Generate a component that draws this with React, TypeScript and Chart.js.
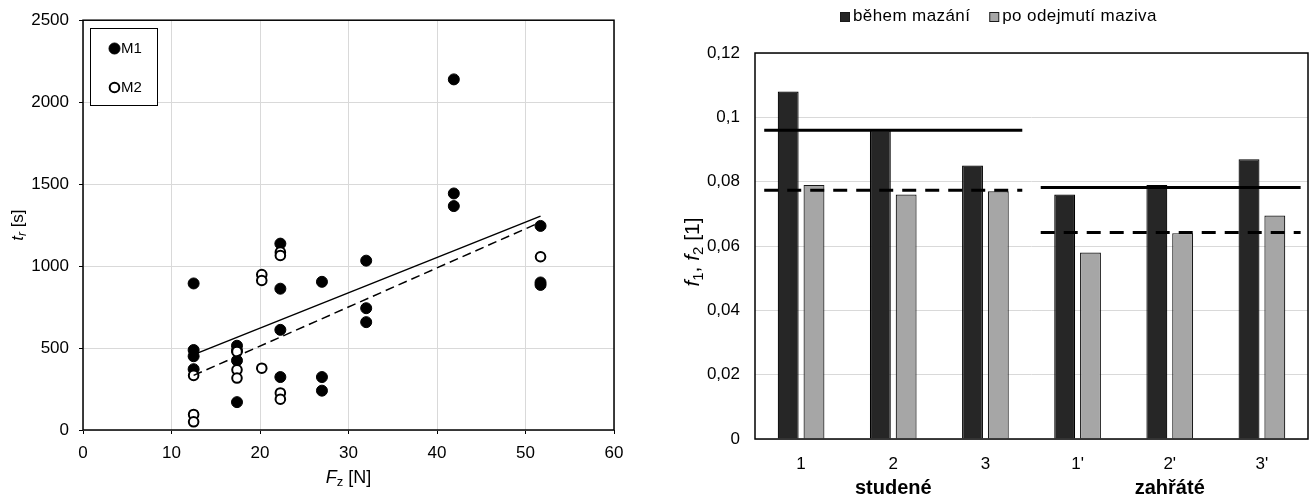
import React, { useEffect, useRef } from "react";
import { Chart, registerables } from "chart.js";

Chart.register(...registerables);

const FONT_FAMILY = "'Liberation Sans', Arial, sans-serif";

// ---------- Left chart data (t_r vs F_z) ----------
const seriesNamesLeft = ["M1", "M2"];
const m1Force = [12.5, 12.5, 12.5, 12.5, 17.4, 17.4, 17.4, 17.4, 22.3, 22.3, 22.3, 22.3, 27, 27, 27, 32, 32, 32, 41.9, 41.9, 41.9, 51.7, 51.7, 51.7];
const m1Time = [894, 488, 450, 371, 514, 484, 424, 170, 1137, 862, 611, 323, 904, 323, 240, 1033, 743, 658, 2139, 1443, 1366, 1245, 900, 885];
const m2Force = [12.5, 12.5, 12.5, 17.4, 17.4, 17.4, 20.2, 20.2, 20.2, 22.3, 22.3, 22.3, 22.3, 51.7];
const m2Time = [333, 95, 50, 478, 367, 317, 948, 912, 377, 1085, 1065, 226, 188, 1057];
const trendForce = [12.5, 51.7];
const m1Trend = [460, 1305];
const m2Trend = [333, 1268];

// ---------- Right chart data (f1, f2) ----------
const conditions = ["1", "2", "3", "1'", "2'", "3'"];
const groupNames = ["studené", "zahřáté"];
const groupCenterIdx = [1, 4];
const seriesNamesRight = ["během mazání", "po odejmutí maziva"];
const fDuring = [0.108, 0.096, 0.085, 0.076, 0.079, 0.087];
const fAfter = [0.079, 0.076, 0.077, 0.058, 0.064, 0.0695];
// mean-line spans, in category-index units
const meanSpanStart = [-0.4, 2.6];
const meanSpanEnd = [2.4, 5.42];
const meanDuring = [0.096, 0.0782];
const meanAfter = [0.0773, 0.0642];
const rightYTicks = ["0", "0,02", "0,04", "0,06", "0,08", "0,1", "0,12"];

type Seg = { t: string; size: number; italic?: boolean; bold?: boolean; dy?: number };

function fontOf(s: Seg) {
  return `${s.italic ? "italic " : ""}${s.bold ? "bold " : ""}${s.size}px ${FONT_FAMILY}`;
}

function drawRich(ctx: CanvasRenderingContext2D, segs: Seg[], cx: number, cy: number, vertical: boolean) {
  ctx.save();
  ctx.translate(cx, cy);
  if (vertical) ctx.rotate(-Math.PI / 2);
  let total = 0;
  const ws = segs.map((s) => {
    ctx.font = fontOf(s);
    const w = ctx.measureText(s.t).width;
    total += w;
    return w;
  });
  let x = -total / 2;
  ctx.fillStyle = "#000";
  ctx.textBaseline = "alphabetic";
  ctx.textAlign = "left";
  segs.forEach((s, i) => {
    ctx.font = fontOf(s);
    ctx.fillText(s.t, x, s.dy || 0);
    x += ws[i];
  });
  ctx.restore();
}

const toXY = (xs: number[], ys: number[]) => xs.map((x, i) => ({ x, y: ys[i] }));

export default function App() {
  const leftRef = useRef<HTMLCanvasElement>(null);
  const rightRef = useRef<HTMLCanvasElement>(null);

  useEffect(() => {
    const tickFont = { family: FONT_FAMILY, size: 17 };

    const leftPlugin = {
      id: "leftDecor",
      afterDraw(chart: any) {
        const ctx: CanvasRenderingContext2D = chart.ctx;
        const a = chart.chartArea;
        ctx.save();
        ctx.strokeStyle = "#000";
        ctx.lineWidth = 1.5;
        ctx.strokeRect(a.left, a.top, a.right - a.left, a.bottom - a.top);
        ctx.lineWidth = 1;
        ctx.fillStyle = "#fff";
        ctx.fillRect(90.5, 28.5, 67, 77);
        ctx.strokeRect(90.5, 28.5, 67, 77);
        const ys = [48.5, 87.5];
        seriesNamesLeft.forEach((name, i) => {
          ctx.beginPath();
          ctx.arc(114.5, ys[i], i === 0 ? 5.5 : 4.8, 0, Math.PI * 2);
          ctx.fillStyle = i === 0 ? "#000" : "#fff";
          ctx.fill();
          ctx.lineWidth = i === 0 ? 1 : 2;
          ctx.strokeStyle = "#000";
          ctx.stroke();
          ctx.fillStyle = "#000";
          ctx.font = `15px ${FONT_FAMILY}`;
          ctx.textAlign = "left";
          ctx.textBaseline = "middle";
          ctx.fillText(name, 121, ys[i] + 0.5);
        });
        ctx.restore();
        drawRich(ctx, [
          { t: "F", size: 18, italic: true },
          { t: "z", size: 13, dy: 3 },
          { t: " [N]", size: 18 },
        ], (a.left + a.right) / 2, 483, false);
        drawRich(ctx, [
          { t: "t", size: 17, italic: true },
          { t: "r", size: 12, italic: true, dy: 3 },
          { t: " [s]", size: 17 },
        ], 23, (a.top + a.bottom) / 2, true);
      },
    };

    const left = new Chart(leftRef.current!, {
      type: "scatter",
      data: {
        datasets: [
          {
            type: "line",
            label: "M1 trend",
            data: toXY(trendForce, m1Trend),
            borderColor: "#000",
            borderWidth: 1.5,
            pointRadius: 0,
            fill: false,
            order: 0,
          },
          {
            type: "line",
            label: "M2 trend",
            data: toXY(trendForce, m2Trend),
            borderColor: "#000",
            borderWidth: 1.5,
            borderDash: [9, 5],
            pointRadius: 0,
            fill: false,
            order: 0,
          },
          {
            label: seriesNamesLeft[1],
            data: toXY(m2Force, m2Time),
            pointRadius: 4.8,
            pointBackgroundColor: "#fff",
            pointBorderColor: "#000",
            pointBorderWidth: 2,
            order: 1,
          },
          {
            label: seriesNamesLeft[0],
            data: toXY(m1Force, m1Time),
            pointRadius: 5.5,
            pointBackgroundColor: "#000",
            pointBorderColor: "#000",
            pointBorderWidth: 1,
            order: 2,
          },
        ] as any,
      },
      options: {
        animation: false,
        responsive: false,
        events: [],
        layout: { padding: { top: 17, right: 41, left: 0, bottom: 0 } },
        plugins: { legend: { display: false }, tooltip: { enabled: false } },
        scales: {
          x: {
            type: "linear",
            min: 0,
            max: 60,
            ticks: { stepSize: 10, font: tickFont, color: "#000", padding: 9, callback: (v: any) => String(v) },
            grid: { color: "#d9d9d9", tickColor: "#000", tickLength: 4 },
            border: { display: false },
            afterFit: (s: any) => {
              s.height = 66;
            },
          },
          y: {
            min: 0,
            max: 2500,
            ticks: { stepSize: 500, font: tickFont, color: "#000", padding: 10, callback: (v: any) => String(v) },
            grid: { color: "#d9d9d9", tickColor: "#000", tickLength: 4 },
            border: { display: false },
            afterFit: (s: any) => {
              s.width = 83;
            },
          },
        },
      } as any,
      plugins: [leftPlugin],
    });

    const rightPlugin = {
      id: "rightDecor",
      afterDraw(chart: any) {
        const ctx: CanvasRenderingContext2D = chart.ctx;
        const a = chart.chartArea;
        ctx.save();
        ctx.strokeStyle = "#000";
        ctx.lineWidth = 1.5;
        ctx.strokeRect(a.left, a.top, a.right - a.left, a.bottom - a.top);
        const xs = chart.scales.x;
        ctx.fillStyle = "#000";
        ctx.font = `bold 20px ${FONT_FAMILY}`;
        ctx.textAlign = "center";
        ctx.textBaseline = "alphabetic";
        groupNames.forEach((g, i) => {
          ctx.fillText(g, xs.getPixelForValue(groupCenterIdx[i]), 494);
        });
        // legend
        ctx.font = `17px ${FONT_FAMILY}`;
        (ctx as any).letterSpacing = "0.4px";
        const box = 9;
        const gap = 4;
        const spacing = 19;
        const widths = seriesNamesRight.map((n) => ctx.measureText(n).width);
        let x = 185;
        const cy = 16.5;
        const colors = ["#262626", "#a6a6a6"];
        seriesNamesRight.forEach((n, i) => {
          ctx.fillStyle = colors[i];
          ctx.fillRect(x + 0.5, cy - box / 2 + 0.5, box, box);
          ctx.strokeStyle = "#1a1a1a";
          ctx.lineWidth = 1;
          ctx.strokeRect(x + 0.5, cy - box / 2 + 0.5, box, box);
          ctx.fillStyle = "#000";
          ctx.textAlign = "left";
          ctx.textBaseline = "middle";
          ctx.fillText(n, x + box + gap, cy);
          x += box + gap + widths[i] + spacing;
        });
        (ctx as any).letterSpacing = "0px";
        ctx.restore();
        drawRich(ctx, [
          { t: "f", size: 21, italic: true },
          { t: "1", size: 15, dy: 4 },
          { t: ", ", size: 21 },
          { t: "f", size: 21, italic: true },
          { t: "2", size: 15, dy: 4 },
          { t: " [1]", size: 21 },
        ], 44, (a.top + a.bottom) / 2 + 6, true);
      },
    };

    const meanLine = (i: number, ys: number[], dashed: boolean) => ({
      type: "line",
      label: dashed ? "mean after" : "mean during",
      parsing: false,
      data: [
        { x: meanSpanStart[i], y: ys[i] },
        { x: meanSpanEnd[i], y: ys[i] },
      ],
      borderColor: "#000",
      borderWidth: 3,
      borderDash: dashed ? [14, 9] : [],
      pointRadius: 0,
      fill: false,
      order: 0,
    });

    const right = new Chart(rightRef.current!, {
      type: "bar",
      data: {
        labels: conditions,
        datasets: [
          {
            type: "bar",
            label: seriesNamesRight[0],
            data: fDuring,
            backgroundColor: "#262626",
            borderColor: "#000",
            borderWidth: 1.2,
            categoryPercentage: 0.56,
            barPercentage: 0.81,
            order: 1,
          },
          {
            type: "bar",
            label: seriesNamesRight[1],
            data: fAfter,
            backgroundColor: "#a6a6a6",
            borderColor: "#1a1a1a",
            borderWidth: 1.2,
            categoryPercentage: 0.56,
            barPercentage: 0.81,
            order: 1,
          },
          meanLine(0, meanDuring, false),
          meanLine(0, meanAfter, true),
          meanLine(1, meanDuring, false),
          meanLine(1, meanAfter, true),
        ] as any,
      },
      options: {
        animation: false,
        responsive: false,
        events: [],
        layout: { padding: { top: 53, right: 3, left: 0, bottom: 0 } },
        plugins: { legend: { display: false }, tooltip: { enabled: false } },
        scales: {
          x: {
            type: "category",
            ticks: { font: tickFont, color: "#000", padding: 7 },
            grid: { display: false },
            border: { display: false },
            afterFit: (s: any) => {
              s.height = 57;
            },
          },
          y: {
            min: 0,
            max: 0.12,
            ticks: {
              stepSize: 0.02,
              font: tickFont,
              color: "#000",
              padding: 15,
              callback: (_v: any, i: number) => rightYTicks[i],
            },
            grid: { color: "#d9d9d9", drawTicks: false },
            border: { display: false },
            afterFit: (s: any) => {
              s.width = 100;
            },
          },
        },
      } as any,
      plugins: [rightPlugin],
    });

    return () => {
      left.destroy();
      right.destroy();
    };
  }, []);

  return (
    <div style={{ position: "absolute", left: 0, top: 0, width: 1311, height: 496, background: "#fff", overflow: "hidden" }}>
      <canvas ref={leftRef} width={655} height={496} style={{ position: "absolute", left: 0, top: 0, width: 655, height: 496 }} />
      <canvas ref={rightRef} width={656} height={496} style={{ position: "absolute", left: 655, top: 0, width: 656, height: 496 }} />
    </div>
  );
}
